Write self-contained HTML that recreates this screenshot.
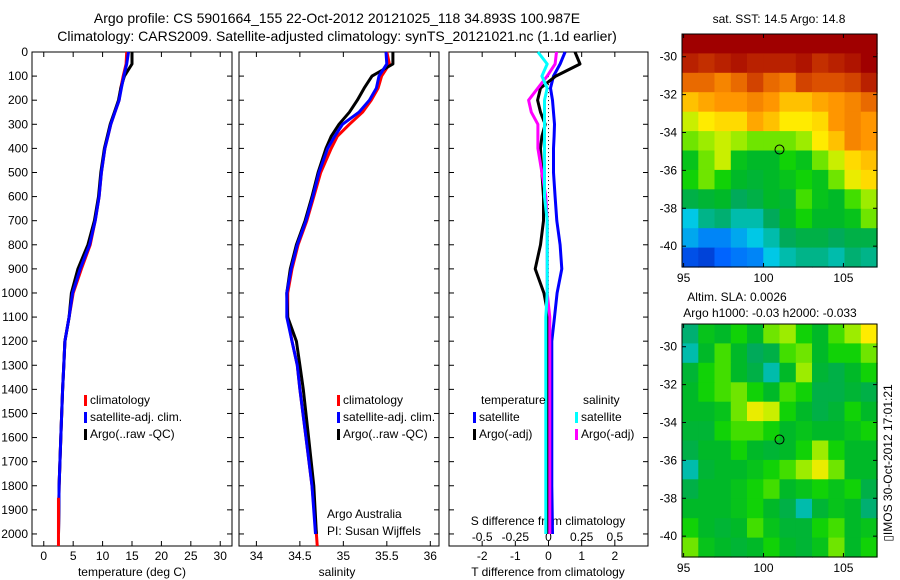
<!DOCTYPE html>
<html><head><meta charset="utf-8"><style>
body{margin:0;background:#fff;}
svg{display:block;font-family:"Liberation Sans",sans-serif;}
</style></head><body>
<svg id="c" width="900" height="580" viewBox="0 0 900 580">
<text x="337" y="23" font-size="14" text-anchor="middle">Argo profile: CS 5901664_155 22-Oct-2012 20121025_118 34.893S 100.987E</text>
<text x="337" y="41" font-size="14" text-anchor="middle">Climatology: CARS2009. Satellite-adjusted climatology: synTS_20121021.nc (1.1d earlier)</text>
<text x="779" y="23" font-size="12" text-anchor="middle">sat. SST: 14.5 Argo: 14.8</text>
<text x="737" y="301" font-size="12" text-anchor="middle">Altim. SLA: 0.0026</text>
<text x="770" y="317" font-size="12" text-anchor="middle">Argo h1000: -0.03 h2000: -0.033</text>
<text transform="translate(892,463) rotate(-90)" font-size="12" text-anchor="middle">▯IMOS 30-Oct-2012 17:01:21</text>
<text x="327" y="518" font-size="12">Argo Australia</text>
<text x="327" y="535" font-size="12">PI: Susan Wijffels</text>
<text x="548" y="525" font-size="12" text-anchor="middle">S difference from climatology</text>
<text x="132" y="576" font-size="12" text-anchor="middle">temperature (deg C)</text>
<text x="337" y="576" font-size="12" text-anchor="middle">salinity</text>
<text x="548" y="576" font-size="12" text-anchor="middle">T difference from climatology</text>
</svg>
<script>
const depths=[0,50,100,150,200,250,300,350,400,500,600,700,800,900,1000,1100,1200,1300,1400,1600,1800,2000];
const tempClim=[14.1,14.0,13.5,13.1,12.8,12.1,11.4,10.9,10.4,9.8,9.4,8.75,7.9,6.4,5.0,4.3,3.6,3.4,3.2,2.9,2.6,2.5];
const tempSat=[14.4,14.1,13.6,13.2,12.8,12.1,11.4,10.9,10.4,9.8,9.4,8.75,7.8,6.2,4.9,4.3,3.6,3.4,3.2,2.9,2.6,2.5];
const tempArgo=[15.0,15.0,13.7,13.1,12.7,12.0,11.3,10.8,10.3,9.7,9.3,8.6,7.5,5.8,4.7,4.3,3.6,3.4,3.2,2.9,2.6,2.5];
const salClim=[35.5,35.53,35.44,35.4,35.32,35.22,35.07,34.93,34.86,34.74,34.66,34.58,34.48,34.41,34.36,34.36,34.41,34.47,34.5,34.57,34.64,34.69];
const salSat=[35.49,35.5,35.41,35.38,35.3,35.18,34.99,34.9,34.82,34.72,34.65,34.57,34.47,34.4,34.35,34.35,34.41,34.47,34.5,34.57,34.64,34.68];
const salArgo=[35.57,35.57,35.33,35.24,35.16,35.07,34.95,34.86,34.8,34.71,34.64,34.56,34.46,34.39,34.35,34.36,34.46,34.5,34.54,34.6,34.66,34.69];
const tDiffSat=[0.5,0.35,0.15,0.06,0.12,0.15,0.18,0.17,0.15,0.15,0.2,0.25,0.35,0.4,0.26,0.18,0.1,0.1,0.1,0.1,0.1,0.12];
const tDiffArgo=[0.8,0.95,0.22,-0.24,-0.33,-0.24,-0.1,-0.2,-0.24,-0.2,-0.15,-0.15,-0.24,-0.4,-0.14,0,0,0,0,0,0,0];
const sDiffSat=[-0.08,-0.01,-0.05,-0.01,-0.03,-0.03,-0.03,-0.03,-0.03,-0.03,-0.03,-0.01,-0.01,-0.01,-0.01,-0.02,-0.02,-0.02,-0.02,-0.02,-0.02,-0.02];
const sDiffArgo=[0.06,0.05,-0.01,-0.08,-0.15,-0.13,-0.08,-0.08,-0.08,-0.05,-0.02,-0.01,-0.01,-0.01,-0.01,0.01,0.01,0.01,0.01,0.01,0.01,0.01];
const depthTicks=[0,100,200,300,400,500,600,700,800,900,1000,1100,1200,1300,1400,1500,1600,1700,1800,1900,2000];
const tempTicks=[0,5,10,15,20,25,30];
const salTicks=[34,34.5,35,35.5,36];
const tDiffTicks=[-2,-1,0,1,2];
const sDiffTicks=[-0.5,-0.25,0,0.25,0.5];
const lonTicks=[95,100,105];
const latTicks=[-30,-32,-34,-36,-38,-40];
const sstGrid=[
[1,1,1,1,1,1,1,1,1,1,1,1],
[.95,.93,.95,.97,.95,.95,.95,.97,.93,.95,.97,1],
[.85,.85,.82,.85,.9,.85,.83,.9,.88,.88,.9,.95],
[.75,.78,.8,.8,.82,.8,.75,.75,.78,.8,.82,.85],
[.65,.7,.72,.72,.78,.75,.7,.7,.72,.8,.82,.8],
[.6,.62,.65,.62,.6,.6,.6,.62,.7,.75,.82,.8],
[.52,.6,.65,.52,.5,.5,.55,.52,.6,.65,.72,.75],
[.55,.6,.55,.5,.48,.5,.52,.55,.52,.6,.68,.72],
[.45,.48,.5,.42,.45,.5,.48,.58,.52,.5,.58,.62],
[.3,.38,.4,.35,.35,.42,.5,.55,.5,.5,.52,.6],
[.25,.2,.2,.25,.3,.35,.42,.45,.45,.42,.45,.45],
[.12,.1,.15,.18,.2,.3,.35,.38,.38,.35,.4,.38]];
const slaGrid=[
[.4,.52,.5,.55,.5,.6,.62,.55,.5,.58,.62,.7],
[.35,.5,.58,.5,.42,.45,.58,.6,.5,.55,.55,.6],
[.48,.55,.58,.5,.45,.35,.5,.62,.48,.45,.5,.55],
[.5,.55,.58,.6,.55,.5,.58,.55,.45,.45,.48,.45],
[.5,.5,.52,.6,.68,.65,.55,.5,.45,.48,.55,.5],
[.48,.48,.55,.58,.58,.55,.5,.52,.5,.5,.52,.55],
[.45,.5,.5,.55,.5,.48,.5,.55,.62,.55,.5,.5],
[.35,.48,.5,.5,.52,.55,.58,.62,.68,.6,.5,.5],
[.45,.5,.5,.52,.55,.58,.5,.52,.55,.52,.55,.45],
[.5,.5,.5,.52,.55,.5,.45,.35,.48,.52,.5,.4],
[.55,.5,.48,.5,.58,.52,.48,.48,.55,.58,.5,.52],
[.6,.52,.5,.48,.5,.55,.5,.48,.52,.6,.5,.55]];
const argoLon=101.0, argoLat=-34.9;

const NS='http://www.w3.org/2000/svg';
const svg=document.getElementById('c');
function mk(tag,attrs,parent){const e=document.createElementNS(NS,tag);for(const k in attrs)e.setAttribute(k,attrs[k]);(parent||svg).appendChild(e);return e;}
function lin(d0,d1,r0,r1){return v=>r0+(v-d0)*(r1-r0)/(d1-d0);}
const TOP=52,BOT=546;
const yD=lin(0,2050,TOP,BOT);
const panels=[
 {l:32,r:232,x:lin(-2,32,32,232),name:'temperature-panel'},
 {l:239,r:439,x:lin(33.8,36.1,239,439),name:'salinity-panel'},
 {l:449,r:648,x:lin(-3,3,449,648),name:'difference-panel'}];
panels.forEach((p,i)=>{
 const g=mk('g',{});
 
 
 const fr=mk('rect',{x:p.l,y:TOP,width:p.r-p.l,height:BOT-TOP,fill:'none',stroke:'#000','stroke-width':1},g);
 
 
 depthTicks.forEach(d=>{
  const y=yD(d);
  mk('line',{x1:p.l,x2:p.l+5,y1:y,y2:y,stroke:'#000'},g);
  mk('line',{x1:p.r,x2:p.r-5,y1:y,y2:y,stroke:'#000'},g);
  if(i===0){const t=mk('text',{x:28,y:y+4,'font-size':12,'text-anchor':'end'},g);t.textContent=d;
   
   }
 });
});
function xticks(p,ticks,fmt){ticks.forEach(v=>{const x=p.x(v);
 mk('line',{x1:x,x2:x,y1:TOP,y2:TOP+5,stroke:'#000'});mk('line',{x1:x,x2:x,y1:BOT,y2:BOT-5,stroke:'#000'});
 const t=mk('text',{x:x,y:560,'font-size':12,'text-anchor':'middle'});t.textContent=fmt?fmt(v):v;
 
 });}
xticks(panels[0],tempTicks);xticks(panels[1],salTicks);xticks(panels[2],tDiffTicks);
const sX=lin(-0.75,0.75,449,648);
sDiffTicks.forEach(v=>{const t=mk('text',{x:sX(v),y:541,'font-size':12,'text-anchor':'middle'});t.textContent=v;
 
 });
const zl=mk('line',{x1:panels[2].x(0),x2:panels[2].x(0),y1:yD(100),y2:yD(1000),stroke:'#000','stroke-dasharray':'1,3'});


function line(xf,vals,color,name,w){
 const pts=vals.map((v,i)=>xf(v).toFixed(1)+','+yD(depths[i]).toFixed(1)).join(' ');
 const e=mk('polyline',{points:pts,fill:'none',stroke:color,'stroke-width':w||3,'stroke-linejoin':'round'});
 
 
 return e;}
line(panels[0].x,tempClim,'#f00','temp-climatology-line');
line(panels[0].x,tempArgo,'#000','temp-argo-line');
line(panels[0].x,tempSat,'#00f','temp-satellite-line');
const ext=line(panels[0].x,[2.5,2.5],'#f00','temp-climatology-tail');ext.setAttribute('points',panels[0].x(2.5)+','+yD(1850)+' '+panels[0].x(2.5)+','+BOT);
line(panels[1].x,salClim,'#f00','sal-climatology-line');
line(panels[1].x,salArgo,'#000','sal-argo-line');
line(panels[1].x,salSat,'#00f','sal-satellite-line');
const ext2=line(panels[1].x,[34.7,34.7],'#f00','sal-climatology-tail');ext2.setAttribute('points',panels[1].x(34.69)+','+yD(2000)+' '+panels[1].x(34.7)+','+BOT);
line(panels[2].x,tDiffSat,'#00f','tdiff-satellite-line');
line(panels[2].x,tDiffArgo,'#000','tdiff-argo-line');
line(sX,sDiffArgo,'#f0f','sdiff-argo-line');
line(sX,sDiffSat,'#0ff','sdiff-satellite-line');
function leg(x,y,color,label,name){
 const r=mk('rect',{x:x,y:y-9,width:3,height:11,fill:color});
 
 
 const t=mk('text',{x:x+6,y:y,'font-size':12});t.textContent=label;
 
 }
[[84,'temp'],[337,'sal']].forEach(([x,n])=>{
 leg(x,404,'#f00','climatology',n+'-legend-climatology');
 leg(x,421,'#00f','satellite-adj. clim.',n+'-legend-satellite');
 leg(x,438,'#000','Argo(..raw -QC)',n+'-legend-argo');});
const tl=mk('text',{x:481,y:404,'font-size':12});tl.textContent='temperature';


const sl=mk('text',{x:583,y:404,'font-size':12});sl.textContent='salinity';


leg(473,421,'#00f','satellite','legend-tdiff-satellite');
leg(473,438,'#000','Argo(-adj)','legend-tdiff-argo');
leg(575,421,'#0ff','satellite','legend-sdiff-satellite');
leg(575,438,'#f0f','Argo(-adj)','legend-sdiff-argo');
const stops=[[0,[0,0,140]],[0.15,[0,100,255]],[0.3,[0,200,230]],[0.42,[0,170,90]],[0.5,[0,185,40]],[0.56,[20,215,0]],[0.63,[180,240,0]],[0.7,[255,235,0]],[0.8,[255,150,0]],[0.88,[220,80,0]],[1,[160,0,0]]];
function cmap(v){for(let i=1;i<stops.length;i++){if(v<=stops[i][0]){const a=stops[i-1],b=stops[i],t=(v-a[0])/(b[0]-a[0]);return 'rgb('+a[1].map((c,k)=>Math.round(c+(b[1][k]-c)*t)).join(',')+')';}}return 'rgb(160,0,0)';}
function map(top,grid,name){
 const L=682,R=877,B=top+233;
 const xL=lin(94.9,107.1,L,R), yL=lin(-28.8,-41.1,top,B);
 const g=mk('g',{});
 
 
 const nr=grid.length,nc=grid[0].length;
 grid.forEach((row,r)=>row.forEach((v,c)=>{
  const lon0=94.9+c*(12.2/nc),lat0=-28.8-r*(12.3/nr);
  const x0=xL(lon0),x1=xL(lon0+12.2/nc),y0=yL(lat0),y1=yL(lat0-12.3/nr);
  const cell=mk('rect',{x:x0.toFixed(1),y:y0.toFixed(1),width:(x1-x0+0.6).toFixed(1),height:(y1-y0+0.6).toFixed(1),fill:cmap(v)},g);
  
  
 }));
 mk('rect',{x:L,y:top,width:R-L,height:B-top,fill:'none',stroke:'#000'},g);
 lonTicks.forEach(v=>{const x=xL(v);mk('line',{x1:x,x2:x,y1:top,y2:top+4,stroke:'#000'},g);mk('line',{x1:x,x2:x,y1:B,y2:B-4,stroke:'#000'},g);
  const t=mk('text',{x:x,y:B+15,'font-size':12,'text-anchor':'middle'},g);t.textContent=v;
  
  });
 latTicks.forEach(v=>{const y=yL(v);mk('line',{x1:L,x2:L+4,y1:y,y2:y,stroke:'#000'},g);mk('line',{x1:R,x2:R-4,y1:y,y2:y,stroke:'#000'},g);
  const t=mk('text',{x:677,y:y+4,'font-size':12,'text-anchor':'end'},g);t.textContent=v;
  
  });
 const c=mk('circle',{cx:xL(argoLon),cy:yL(argoLat),r:4.5,fill:'none',stroke:'#000','stroke-width':1},g);
 
 
}
map(34,sstGrid,'sst-map');
map(324,slaGrid,'sla-map');
</script>
</body></html>
